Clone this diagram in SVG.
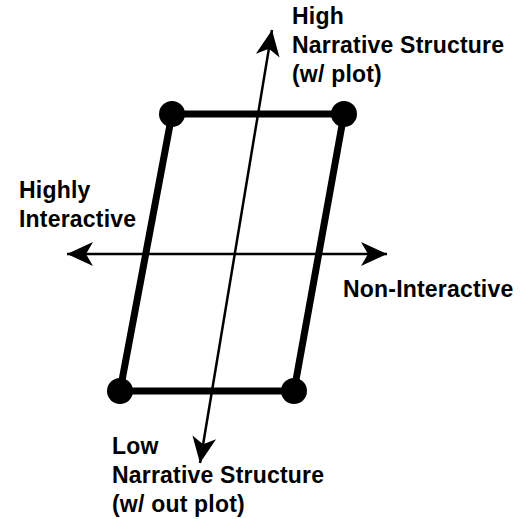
<svg xmlns="http://www.w3.org/2000/svg" width="521" height="519" viewBox="0 0 521 519">
<style>
.lbl{font-family:"Liberation Sans",Arial,sans-serif;font-weight:bold;font-size:23px;letter-spacing:0.2px;fill:#000}
.axis{stroke:#000;stroke-width:2.5;fill:none;marker-start:url(#ah);marker-end:url(#ah)}
.edge{stroke:#000;stroke-width:7;fill:none}
.dot{fill:#000}
</style>
<defs>
<marker id="ah" markerUnits="userSpaceOnUse" viewBox="-28 -14 30 28" refX="0" refY="0" markerWidth="30" markerHeight="28" orient="auto-start-reverse">
<path d="M0,0 L-26,-12 L-19,0 L-26,12 Z" fill="#000"/>
</marker>
</defs>
<g id="connectors">
<line class="axis" x1="200" y1="463" x2="272" y2="30"/>
<line class="axis" x1="67" y1="254" x2="387" y2="254"/>
<path class="edge" d="M172,114 L344,114 L294,391 L120,391 Z"/>
</g>
<g id="node-tl"><circle class="dot" cx="172" cy="114" r="13"/></g>
<g id="node-tr"><circle class="dot" cx="344" cy="114" r="13"/></g>
<g id="node-br"><circle class="dot" cx="294" cy="391" r="13"/></g>
<g id="node-bl"><circle class="dot" cx="120" cy="391" r="13"/></g>
<g id="label-high">
<text class="lbl" x="292" y="24">High</text>
<text class="lbl" x="292" y="53">Narrative Structure</text>
<text class="lbl" x="292" y="82">(w/ plot)</text>
</g>
<g id="label-interactive">
<text class="lbl" x="19" y="198">Highly</text>
<text class="lbl" x="19" y="227">Interactive</text>
</g>
<g id="label-noninteractive">
<text class="lbl" x="343" y="297">Non-Interactive</text>
</g>
<g id="label-low">
<text class="lbl" x="112" y="454">Low</text>
<text class="lbl" x="112" y="483">Narrative Structure</text>
<text class="lbl" x="112" y="512">(w/ out plot)</text>
</g>
</svg>
